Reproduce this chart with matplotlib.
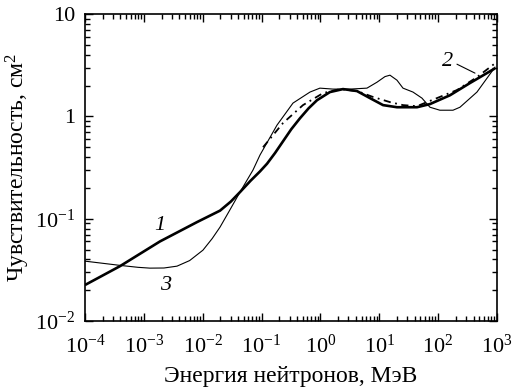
import matplotlib
matplotlib.use("Agg")
import matplotlib.pyplot as plt
import numpy as np

plt.rcParams['font.family'] = ['Liberation Serif', 'DejaVu Serif']
plt.rcParams['mathtext.fontset'] = 'custom'
plt.rcParams['mathtext.rm'] = 'Liberation Serif'
plt.rcParams['mathtext.it'] = 'Liberation Serif:italic'

# curve 1 (thick solid)
e1 = [1e-4, 3.94e-4, 1.88e-3, 8.0e-3, 1.97e-2, 3.0e-2, 4.3e-2, 6.5e-2, 9.4e-2,
      0.124, 0.17, 0.231, 0.32, 0.45, 0.63, 0.875, 1.45, 2.42, 4.18, 6.95,
      11.6, 20.0, 43.8, 72.6, 159, 348, 925]
s1 = [0.0225, 0.0344, 0.0600, 0.0927, 0.120, 0.147, 0.182, 0.235, 0.290,
      0.345, 0.44, 0.57, 0.75, 0.96, 1.20, 1.44, 1.73, 1.85, 1.77, 1.51,
      1.29, 1.23, 1.23, 1.32, 1.61, 2.12, 2.95]

# curve 2 (dash-dot)
e2 = [0.106, 0.231, 0.506, 1.11, 2.15, 4.18, 7.82, 15.2, 25.3, 43.8,
      95.5, 209, 457, 925]
s2 = [0.50, 0.86, 1.29, 1.69, 1.85, 1.77, 1.55, 1.38, 1.29, 1.26,
      1.51, 1.81, 2.42, 3.3]

# curve 3 (thin solid)
e3 = [1e-4, 3.94e-4, 8.0e-4, 1.27e-3, 2.2e-3, 3.66e-3, 6.0e-3, 1.01e-2,
      1.45e-2, 1.97e-2, 2.9e-2, 4.3e-2, 7.15e-2, 9.4e-2, 0.183, 0.342, 0.665,
      0.98, 1.63, 3.18, 6.18, 9.15, 12.5, 15.2, 20.0, 25.3, 37.4, 53.1, 72.6,
      107, 179, 235, 457, 925]
s3 = [0.0385, 0.0350, 0.0335, 0.0329, 0.0330, 0.0344, 0.0390, 0.0493,
      0.0640, 0.0828, 0.122, 0.182, 0.299, 0.419, 0.822, 1.35, 1.73,
      1.89, 1.85, 1.85, 1.89, 2.16, 2.45, 2.53, 2.26, 1.89, 1.73, 1.51, 1.23,
      1.15, 1.15, 1.23, 1.73, 3.03]

fig = plt.figure(figsize=(5.15, 3.92), dpi=100)
ax = fig.add_axes([0.165, 0.181, 0.8, 0.783])

ax.plot(e1, s1, color='black', lw=1.9, solid_capstyle='butt')
ax.plot(e2, s2, color='black', lw=1.3, linestyle=(0, (4, 2.5, 1, 2.5)))
ax.plot(e3, s3, color='black', lw=0.8)

ax.set_xscale('log')
ax.set_yscale('log')
ax.set_xlim(1e-4, 1e3)
ax.set_ylim(1e-2, 10)

ax.set_xticks([10.0**k for k in range(-4, 4)])
ax.set_xticklabels(['10$^{%d}$' % k if k >= 0 else '10$^{\u2212%d}$' % -k
                    for k in range(-4, 4)])
ax.set_yticks([1e-2, 1e-1, 1, 10])
ax.set_yticklabels(['10$^{\u22122}$', '10$^{\u22121}$', '1', '10'])

ax.tick_params(which='both', direction='in', top=True, right=True,
               labelsize=16, width=1)
ax.tick_params(which='major', length=6)
ax.tick_params(which='minor', length=3.5)
ax.tick_params(axis='x', which='major', pad=10)
ax.tick_params(axis='y', which='major', pad=7)
for sp in ax.spines.values():
    sp.set_linewidth(1.2)

ax.set_xlabel('Энергия нейтронов, МэВ', fontsize=17, labelpad=6)
ax.set_ylabel('Чувствительность, см$^2$', fontsize=17, labelpad=2)

ax.text(1.88e-3, 0.0865, '1', fontsize=16, style='italic', ha='center', va='center')
ax.text(2.38e-3, 0.0224, '3', fontsize=16, style='italic', ha='center', va='center')
ax.text(147, 3.45, '2', fontsize=16, style='italic', ha='center', va='center')
ax.annotate('', xy=(423, 2.65), xytext=(209, 3.24),
            arrowprops=dict(arrowstyle='-', color='black', lw=0.8,
                            shrinkA=0, shrinkB=0))

fig.savefig('out.png', dpi=100)
